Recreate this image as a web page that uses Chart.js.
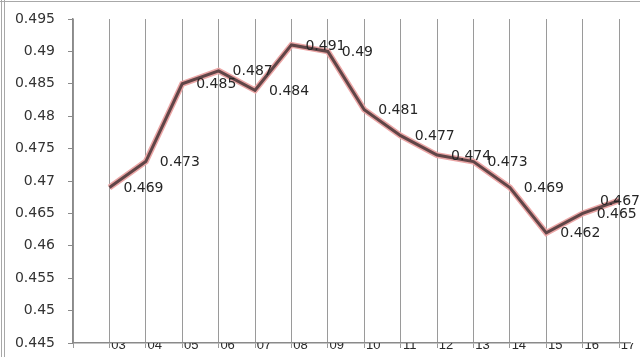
<!DOCTYPE html>
<html>
<head>
<meta charset="utf-8">
<script src="https://cdn.jsdelivr.net/npm/chart.js@4"></script>
<style>
html,body{margin:0;padding:0;background:#fff;}
#wrap{position:relative;width:640px;height:357px;}
</style>
</head>
<body>
<div id="wrap"><canvas id="c" width="640" height="357"></canvas></div>
<script>
const categories = ['03','04','05','06','07','08','09','10','11','12','13','14','15','16','17'];
const categoryPositions = [3,4,5,6,7,8,9,10,11,12,13,14,15,16,17];
const values = [0.469,0.473,0.485,0.487,0.484,0.491,0.490,0.481,0.477,0.474,0.473,0.469,0.462,0.465,0.467];
const yTicks = [0.445,0.45,0.455,0.46,0.465,0.47,0.475,0.48,0.485,0.49,0.495];

const pts = values.map((v,i)=>({x:categoryPositions[i], y:v}));

const frame = {
  id:'frame',
  afterDraw(chart){
    const ctx = chart.ctx;
    ctx.save();
    ctx.strokeStyle = '#a8a8a8';
    ctx.lineWidth = 1;
    ctx.beginPath(); ctx.moveTo(0,1.5); ctx.lineTo(640,1.5); ctx.stroke();
    ctx.beginPath(); ctx.moveTo(1.5,0); ctx.lineTo(1.5,357); ctx.stroke();
    ctx.beginPath(); ctx.moveTo(4.5,0); ctx.lineTo(4.5,357); ctx.stroke();
    ctx.restore();
  }
};

const dataLabels = {
  id:'dataLabels',
  afterDatasetsDraw(chart){
    const ctx = chart.ctx;
    const meta = chart.getDatasetMeta(1);
    ctx.save();
    ctx.font = '14px "DejaVu Sans"';
    ctx.fillStyle = '#262626';
    ctx.textAlign = 'left';
    ctx.textBaseline = 'middle';
    meta.data.forEach((el,i)=>{
      const txt = String(values[i]);
      const w = ctx.measureText(txt).width;
      let x = el.x + 14;
      if (x + w > 640) x = 640 - w;
      ctx.fillText(txt, x, el.y + 1);
    });
    ctx.restore();
  }
};

new Chart(document.getElementById('c'), {
  type:'line',
  data:{
    datasets:[
      {data:pts, order:2, borderColor:'#eba6a6', borderWidth:6, pointRadius:0, tension:0, fill:false},
      {data:pts, order:1, borderColor:'#604547', borderWidth:3, pointRadius:0, tension:0, fill:false}
    ]
  },
  options:{
    responsive:false,
    animation:false,
    events:[],
    layout:{padding:{top:19, right:10, left:0, bottom:0}},
    plugins:{legend:{display:false}, tooltip:{enabled:false}},
    scales:{
      x:{
        type:'linear',
        min:2, max:17.3,
        afterBuildTicks(axis){ axis.ticks = [2].concat(categoryPositions).map(v=>({value:v})); },
        afterFit(axis){ axis.height = 14; axis.paddingLeft = 0; axis.paddingRight = 0; },
        grid:{color:'#9a9a9a', lineWidth:1, drawTicks:true, tickLength:5, tickColor:'#9a9a9a'},
        border:{display:true, color:'#8a8a8a', width:1.5},
        ticks:{
          autoSkip:false, maxRotation:0,
          padding:-10, labelOffset:9,
          color:'#2a2a2a',
          font:{family:'Liberation Sans', size:13},
          callback(v){ const i = categoryPositions.indexOf(v); return i>=0 ? categories[i] : ''; }
        }
      },
      y:{
        min:0.445, max:0.495,
        afterBuildTicks(axis){ axis.ticks = yTicks.map(v=>({value:v})); },
        afterFit(axis){ axis.width = 73; axis.paddingTop = 0; axis.paddingBottom = 0; },
        grid:{drawOnChartArea:false, drawTicks:true, tickLength:5, color:'#8a8a8a', tickColor:'#8a8a8a'},
        border:{display:true, color:'#8a8a8a', width:1.5},
        ticks:{
          padding:13,
          color:'#333',
          font:{family:'DejaVu Sans', size:14},
          callback(v){ return String(Math.round(v*1000)/1000); }
        }
      }
    }
  },
  plugins:[frame, dataLabels]
});
</script>
</body>
</html>
